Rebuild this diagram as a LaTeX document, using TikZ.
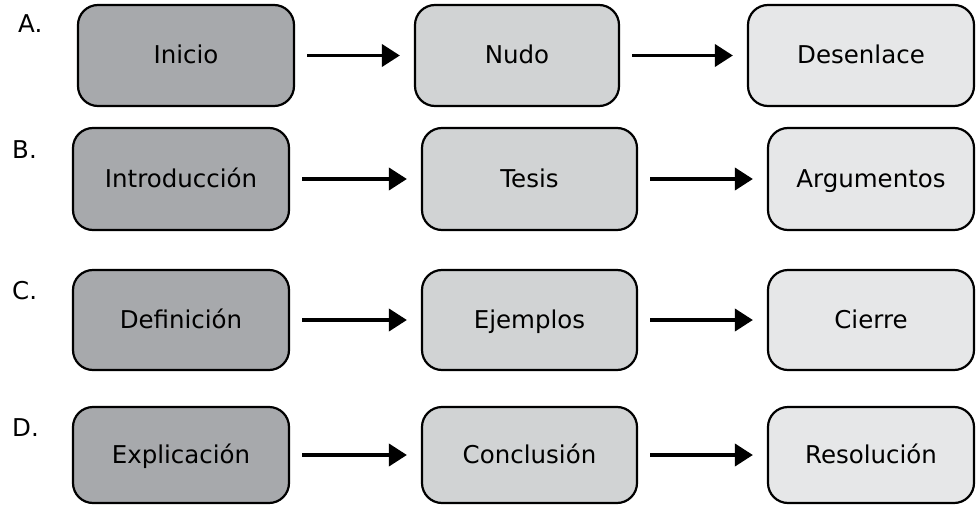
\documentclass[tikz,border=0pt]{standalone}
\usepackage{fontspec}
\setmainfont{DejaVu Sans}
\usetikzlibrary{arrows.meta}
\definecolor{boxdark}{HTML}{A7A9AC}
\definecolor{boxmid}{HTML}{D1D3D4}
\definecolor{boxlight}{HTML}{E6E7E8}
\begin{document}
\begin{tikzpicture}[x=1pt,y=-1pt,
  font=\fontsize{24.5}{28}\selectfont,
  stage/.style={draw=black,line width=2.2pt,rounded corners=20pt,minimum height=100pt,inner sep=0pt,text height=20pt,text depth=4pt},
  first/.style={stage,fill=boxdark,minimum width=216pt},
  middle/.style={stage,fill=boxmid},
  last/.style={stage,fill=boxlight},
  tag/.style={anchor=west,inner sep=0pt},
  flow/.style={-{Triangle[length=18pt,width=22pt]},line width=3.8pt,shorten <=12pt,shorten >=14pt}]
\useasboundingbox (0,0) rectangle (976,505);

% row A
\node[tag] (tagA) at (18,24) {A.};
\node[first,minimum height=101pt] (inicio) at (186,55.5) {Inicio};
\node[middle,minimum width=204pt,minimum height=101pt] (nudo) at (517,55.5) {Nudo};
\node[last,minimum width=226pt,minimum height=101pt] (desenlace) at (861,55.5) {Desenlace};

% row B
\node[tag] (tagB) at (12,150) {B.};
\node[first,minimum height=102pt] (intro) at (181,179) {Introducción};
\node[middle,minimum width=215pt,minimum height=102pt] (tesis) at (529.5,179) {Tesis};
\node[last,minimum width=206pt,minimum height=102pt] (argumentos) at (871,179) {Argumentos};

% row C
\node[tag] (tagC) at (12,291) {C.};
\node[first] (definicion) at (181,320) {Definición};
\node[middle,minimum width=215pt] (ejemplos) at (529.5,320) {Ejemplos};
\node[last,minimum width=206pt] (cierre) at (871,320) {Cierre};

% row D
\node[tag] (tagD) at (12,428) {D.};
\node[first,minimum height=96pt] (explicacion) at (181,455) {Explicación};
\node[middle,minimum width=215pt,minimum height=96pt] (conclusion) at (529.5,455) {Conclusión};
\node[last,minimum width=206pt,minimum height=96pt] (resolucion) at (871,455) {Resolución};

\draw[flow] (inicio) -- (nudo);
\draw[flow] (nudo) -- (desenlace);
\draw[flow] (intro) -- (tesis);
\draw[flow] (tesis) -- (argumentos);
\draw[flow] (definicion) -- (ejemplos);
\draw[flow] (ejemplos) -- (cierre);
\draw[flow] (explicacion) -- (conclusion);
\draw[flow] (conclusion) -- (resolucion);
\end{tikzpicture}
\end{document}
